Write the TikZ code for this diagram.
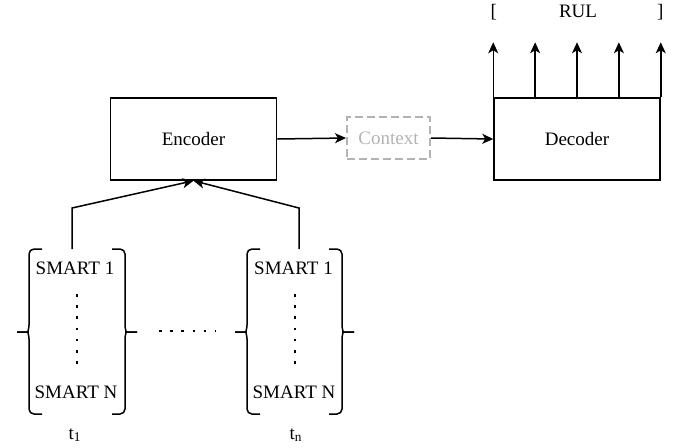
\documentclass[tikz,border=0pt]{standalone}
\usepackage{fontspec}
\setmainfont{Liberation Serif}
\usetikzlibrary{arrows.meta}
\usetikzlibrary{calc}
\tikzset{>={Stealth[length=5.5pt,width=5pt,inset=1.5pt]}}
\definecolor{ctxGray}{HTML}{B3B3B3}
\tikzset{
  block/.style={draw, line width=0.75pt, minimum width=83pt, minimum height=41pt},
  dotline/.style={line width=1.3pt, dash pattern=on 1.3pt off 4.3pt},
  brace/.style={line width=0.75pt, rounded corners=2.5pt},
}

\begin{document}
\begin{tikzpicture}[x=0.5pt, y=-0.5pt, font=\fontsize{9.5}{11}\selectfont, line width=0.75pt]
    \useasboundingbox (0,0) rectangle (686,447);

    \node[block] (enc) at (193.5,139) {Encoder};
    \node[draw=ctxGray, text=ctxGray, line width=1pt, dash pattern=on 4pt off 2pt,
          minimum width=41.5pt, minimum height=21pt] (ctx) at (388.5,138) {Context};
    \node[block] (dec) at (577,139) {Decoder};

    \draw[->] (enc.east) -- (ctx.west);
    \draw[->] (ctx.east) -- (dec.west);

    \foreach \i in {0,...,4}
      \draw[->] ($(dec.north west)!\i/4!(dec.north east)$) -- ++(0,-55);
    \node (rul) at (577,12) {[\hspace{31pt}RUL\hspace{30pt}]};

    % left window
    \node (smA1) at (75,268) {SMART 1};
    \node (smAN) at (76,392) {SMART N};
    \draw[dotline] (77,294) -- (77,370);
    \node (tA) at (75,435) {t\textsubscript{1}};
    \coordinate (topA) at (72,249);

    % right window
    \node (smB1) at (293.5,268) {SMART 1};
    \node (smBN) at (294,392) {SMART N};
    \draw[dotline] (295,294) -- (295,370);
    \node (tB) at (296,435) {t\textsubscript{n}};
    \coordinate (topB) at (299,249);

    \foreach \l/\r in {29/125, 247/342} {
      \draw[brace] (\l+13,249) -- (\l,249) -- (\l,320) .. controls (\l,330) and (\l-2,332) .. (\l-6,332) -- (\l-12,332);
      \draw[brace] (\l-12,332) -- (\l-6,332) .. controls (\l-2,332) and (\l,334) .. (\l,344) -- (\l,414) -- (\l+13,414);
      \draw[brace] (\r-13,249) -- (\r,249) -- (\r,320) .. controls (\r,330) and (\r+2,332) .. (\r+6,332) -- (\r+12,332);
      \draw[brace] (\r+12,332) -- (\r+6,332) .. controls (\r+2,332) and (\r,334) .. (\r,344) -- (\r,414) -- (\r-13,414);
    }
    \draw[dotline] (159,331) -- (216,331);

    \draw[->] (topA) -- ++(0,-41) -- (enc.south);
    \draw[->] (topB) -- ++(0,-41) -- (enc.south);
\end{tikzpicture}
\end{document}
